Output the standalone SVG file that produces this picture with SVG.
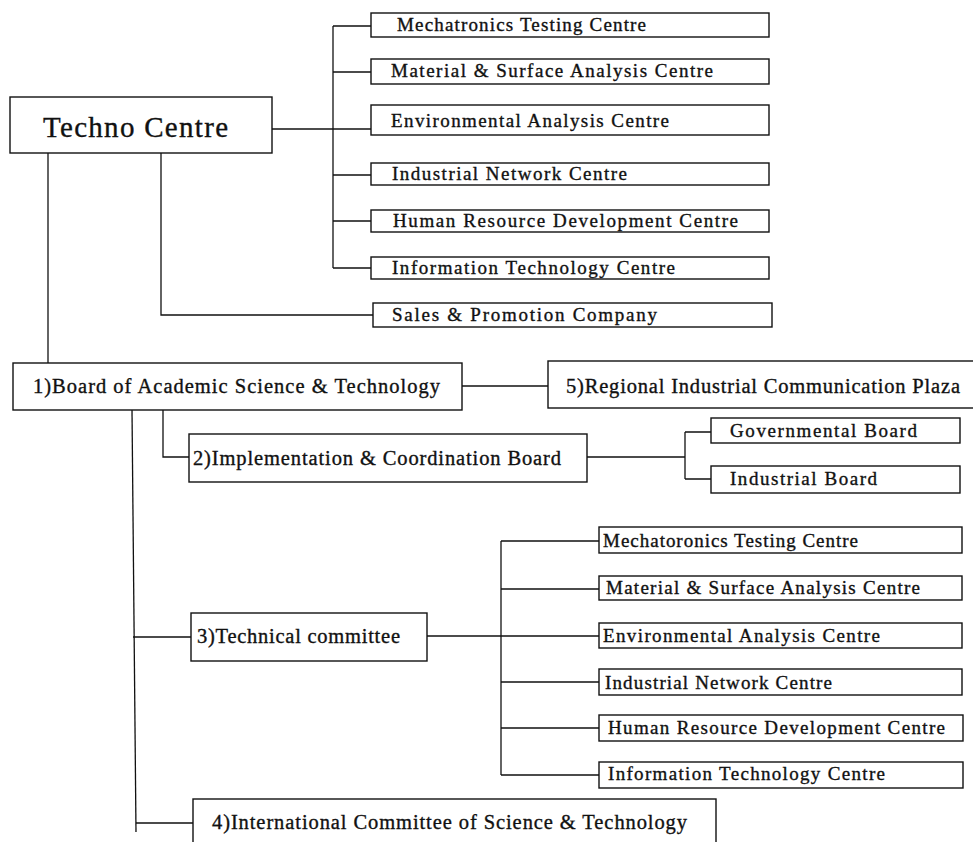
<svg xmlns="http://www.w3.org/2000/svg" width="973" height="842" viewBox="0 0 973 842">
  <style>
    .box { fill: #ffffff; stroke: #111111; stroke-width: 1.4; }
    .ln { fill: none; stroke: #111111; stroke-width: 1.3; }
    text { font-family: "Liberation Serif", "Times New Roman", serif; fill: #111111; stroke: #111111; stroke-width: 0.35; }
    .t-big { font-size: 29px; }
    .t-num { font-size: 20.5px; }
    .t-sm { font-size: 19px; }
  </style>
  <rect width="973" height="842" fill="#ffffff"/>

  <!-- connectors -->
  <g id="connectors" class="ln">
    <!-- Techno Centre to its centres -->
    <path d="M272,129 H371"/>
    <path d="M333,26 V268"/>
    <path d="M333,26 H371 M333,72 H371 M333,175 H371 M333,221 H371 M333,268 H371"/>
    <path d="M161,153 V315 H373"/>
    <path d="M48,153 V363"/>
    <!-- Board links -->
    <path d="M462,386 H548"/>
    <path d="M163,410 V457 H189"/>
    <path d="M587,457 H685 M685,432 V479 M685,432 H711 M685,479 H711"/>
    <path d="M132,410 L136,832"/>
    <path d="M133,637 H191 M136,823 H193"/>
    <!-- Technical committee to its centres -->
    <path d="M427,636 H501"/>
    <path d="M501,541 V775"/>
    <path d="M501,541 H599 M501,589 H599 M501,636 H599 M501,682 H599 M501,728 H599 M501,775 H599"/>
  </g>

  <g id="techno-centre">
    <rect class="box" x="10" y="97" width="262" height="56"/>
    <text class="t-big" x="43" y="137" textLength="185" lengthAdjust="spacing">Techno Centre</text>
  </g>

  <g id="tc-mechatronics">
    <rect class="box" x="371" y="13" width="398" height="24"/>
    <text class="t-sm" x="397" y="31" textLength="249" lengthAdjust="spacing">Mechatronics Testing Centre</text>
  </g>
  <g id="tc-material">
    <rect class="box" x="371" y="59" width="398" height="25"/>
    <text class="t-sm" x="391" y="77" textLength="322" lengthAdjust="spacing">Material &amp; Surface Analysis Centre</text>
  </g>
  <g id="tc-environmental">
    <rect class="box" x="371" y="105" width="398" height="30"/>
    <text class="t-sm" x="391" y="127" textLength="278" lengthAdjust="spacing">Environmental Analysis Centre</text>
  </g>
  <g id="tc-industrial">
    <rect class="box" x="371" y="163" width="398" height="22"/>
    <text class="t-sm" x="392" y="180" textLength="235" lengthAdjust="spacing">Industrial Network Centre</text>
  </g>
  <g id="tc-human">
    <rect class="box" x="371" y="210" width="398" height="22"/>
    <text class="t-sm" x="393" y="227" textLength="345" lengthAdjust="spacing">Human Resource Development Centre</text>
  </g>
  <g id="tc-information">
    <rect class="box" x="371" y="257" width="398" height="22"/>
    <text class="t-sm" x="392" y="274" textLength="283" lengthAdjust="spacing">Information Technology Centre</text>
  </g>
  <g id="sales-promotion">
    <rect class="box" x="373" y="303" width="399" height="24"/>
    <text class="t-sm" x="392" y="321" textLength="265" lengthAdjust="spacing">Sales &amp; Promotion Company</text>
  </g>

  <g id="board-academic">
    <rect class="box" x="13" y="363" width="449" height="47"/>
    <text class="t-num" x="33" y="393" textLength="407" lengthAdjust="spacing">1)Board of Academic Science &amp; Technology</text>
  </g>
  <g id="regional-plaza">
    <rect class="box" x="548" y="361" width="432" height="47"/>
    <text class="t-num" x="566" y="393" textLength="394" lengthAdjust="spacing">5)Regional Industrial Communication Plaza</text>
  </g>
  <g id="implementation-board">
    <rect class="box" x="189" y="434" width="398" height="48"/>
    <text class="t-num" x="193" y="465" textLength="368" lengthAdjust="spacing">2)Implementation &amp; Coordination Board</text>
  </g>
  <g id="governmental-board">
    <rect class="box" x="711" y="418" width="249" height="25"/>
    <text class="t-sm" x="730" y="437" textLength="187" lengthAdjust="spacing">Governmental Board</text>
  </g>
  <g id="industrial-board">
    <rect class="box" x="711" y="466" width="249" height="27"/>
    <text class="t-sm" x="730" y="485" textLength="147" lengthAdjust="spacing">Industrial Board</text>
  </g>

  <g id="technical-committee">
    <rect class="box" x="191" y="613" width="236" height="48"/>
    <text class="t-num" x="197" y="643" textLength="203" lengthAdjust="spacing">3)Technical committee</text>
  </g>
  <g id="cm-mechatoronics">
    <rect class="box" x="599" y="527" width="363" height="26"/>
    <text class="t-sm" x="603" y="547" textLength="255" lengthAdjust="spacing">Mechatoronics Testing Centre</text>
  </g>
  <g id="cm-material">
    <rect class="box" x="599" y="576" width="363" height="24"/>
    <text class="t-sm" x="606" y="594" textLength="314" lengthAdjust="spacing">Material &amp; Surface Analysis Centre</text>
  </g>
  <g id="cm-environmental">
    <rect class="box" x="599" y="623" width="363" height="25"/>
    <text class="t-sm" x="603" y="642" textLength="277" lengthAdjust="spacing">Environmental Analysis Centre</text>
  </g>
  <g id="cm-industrial">
    <rect class="box" x="599" y="669" width="363" height="26"/>
    <text class="t-sm" x="605" y="689" textLength="227" lengthAdjust="spacing">Industrial Network Centre</text>
  </g>
  <g id="cm-human">
    <rect class="box" x="599" y="715" width="364" height="26"/>
    <text class="t-sm" x="608" y="734" textLength="337" lengthAdjust="spacing">Human Resource Development Centre</text>
  </g>
  <g id="cm-information">
    <rect class="box" x="599" y="762" width="364" height="26"/>
    <text class="t-sm" x="608" y="780" textLength="277" lengthAdjust="spacing">Information Technology Centre</text>
  </g>

  <g id="international-committee">
    <rect class="box" x="193" y="799" width="523" height="60"/>
    <text class="t-num" x="212" y="829" textLength="475" lengthAdjust="spacing">4)International Committee of Science &amp; Technology</text>
  </g>
</svg>
